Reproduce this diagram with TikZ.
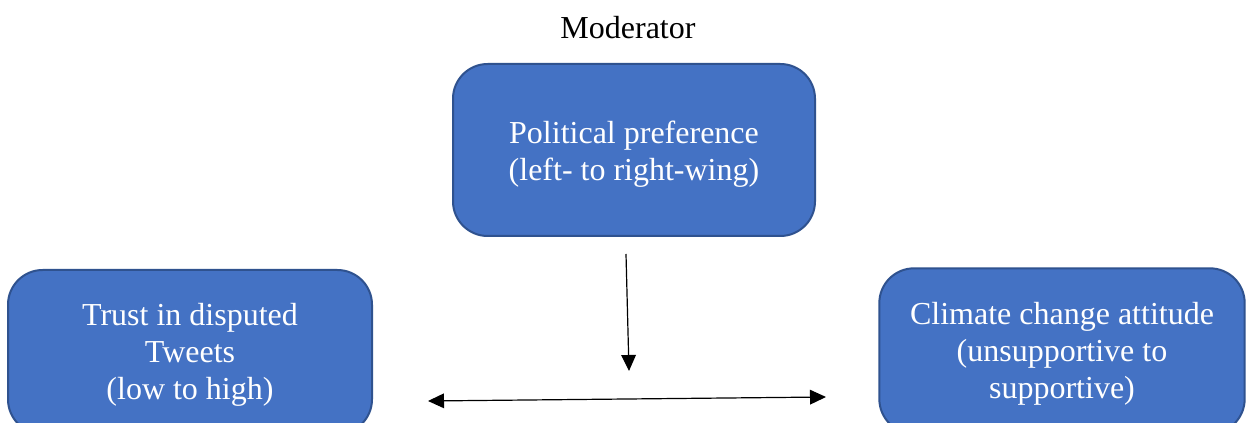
\documentclass[tikz,border=0pt]{standalone}
\usepackage{fontspec}
\setmainfont{Liberation Serif}
\usetikzlibrary{arrows.meta}
\definecolor{boxfill}{HTML}{4472C4}
\definecolor{boxline}{HTML}{2F528F}
\tikzset{
  varbox/.style={draw=boxline, line width=1.5pt, fill=boxfill, rounded corners=26pt, inner sep=0pt},
  boxtext/.style={text=white, align=center, font=\fontsize{24}{27.6}\selectfont},
  conn/.style={line width=0.9pt, -{Triangle[length=12pt,width=11pt]}},
  dconn/.style={line width=0.9pt, {Triangle[length=12pt,width=11pt]}-{Triangle[length=12pt,width=11pt]}}
}
\begin{document}
\begin{tikzpicture}[x=0.75pt,y=-0.75pt]
\useasboundingbox (0,0) rectangle (1246,423);
\clip (0,0) rectangle (1246,423);
\fill[white] (0,0) rectangle (1246,423);
\node[font=\fontsize{24}{27.6}\selectfont] (mod) at (628,28) {Moderator};
\node[varbox, minimum width=271.5pt, minimum height=129pt] (pol) at (634,150) {};
\node[boxtext] (poltext) at (634,154)
  {Political preference\\(left- to right-wing)};
\node[varbox, minimum width=273pt, minimum height=123pt] (trust) at (190,352) {};
\node[boxtext] (trusttext) at (190,355)
  {Trust in disputed\\Tweets\\(low to high)};
\node[varbox, minimum width=274pt, minimum height=124pt] (clim) at (1062,351) {};
\node[boxtext] (climtext) at (1062,354)
  {Climate change attitude\\(unsupportive to\\supportive)};
\coordinate (vtop) at (626,254);
\coordinate (vbot) at (629,371);
\coordinate (hl) at (428,401);
\coordinate (hr) at (826,397);
\draw[conn] (vtop) -- (vbot);
\draw[dconn] (hl) -- (hr);
\end{tikzpicture}
\end{document}
